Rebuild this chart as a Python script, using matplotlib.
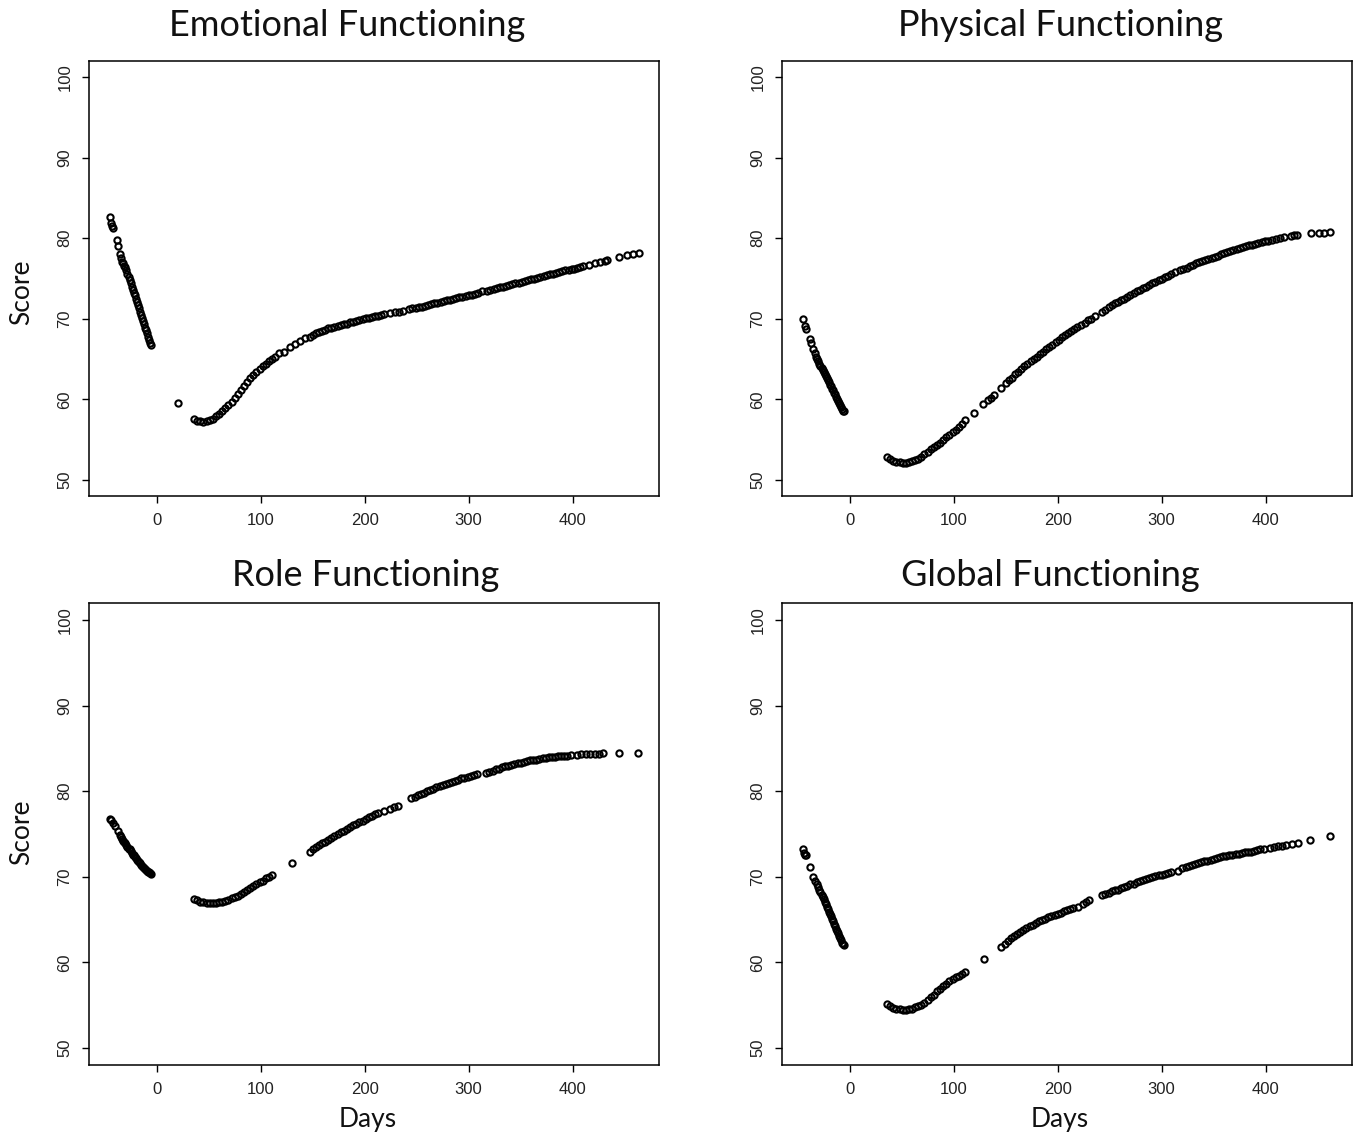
import matplotlib
matplotlib.use("Agg")
import matplotlib.pyplot as plt

# ── Data (days relative to surgery, mean score) ──────────────────────────────

EF_DAYS = [-45, -44, -43, -42, -38, -37, -35, -34, -33, -32, -31,
           -30, -29, -28, -27, -26, -25, -24, -23, -22, -21, -20, -19, -18, -17,
           -16, -15, -14, -13, -12, -11, -10, -9, -8, -7, -6, -5,
           21,
           36, 39, 42, 45, 48, 51, 54, 57, 60, 63, 66, 69, 72, 75, 78, 81, 84,
           87, 90, 93, 96, 99, 102, 105, 108, 111, 114,
           118, 122, 128, 133, 138, 143,
           147, 150, 153, 156, 159, 162, 165, 168, 171, 174, 177, 180, 183, 186,
           189, 192, 195, 198, 201, 204, 207, 210, 213, 216, 219,
           224, 229, 233, 237,
           243, 246, 249, 252, 255, 258, 261, 264, 267, 270, 273, 276, 279, 282,
           285, 288, 291, 294, 297, 300, 303, 306, 309,
           313,
           318, 321, 324, 327, 330, 333, 336, 339, 342, 345, 348, 351, 354, 357,
           360, 363, 366, 369, 372, 375, 378, 381, 384, 387, 390, 393, 396, 399,
           401, 404, 407, 410, 416, 421, 426, 431, 433, 445, 452, 458, 464]
EF_SCORE = [82.6, 81.9, 81.5, 81.3, 79.8, 79.0, 78.1, 77.6, 77.1, 76.9, 76.6,
            76.4, 76.0, 75.6, 75.2, 74.8, 74.4, 74.0, 73.6, 73.2, 72.9, 72.5, 72.1, 71.7, 71.3,
            70.9, 70.5, 70.1, 69.7, 69.3, 68.9, 68.6, 68.2, 67.8, 67.4, 67.0, 66.7,
            59.6,
            57.5, 57.35, 57.25, 57.2, 57.3, 57.45, 57.6, 57.9, 58.2, 58.6, 58.9, 59.3, 59.7, 60.2, 60.6, 61.1, 61.7,
            62.15, 62.6, 63.0, 63.4, 63.8, 64.1, 64.4, 64.7, 64.95, 65.2,
            65.7, 65.9, 66.5, 66.9, 67.2, 67.6,
            67.8, 68.0, 68.2, 68.35, 68.5, 68.65, 68.8, 68.9, 69.0, 69.15, 69.25, 69.3, 69.4, 69.55,
            69.65, 69.75, 69.9, 69.95, 70.05, 70.1, 70.2, 70.3, 70.4, 70.5, 70.6,
            70.7, 70.8, 70.9, 71.0,
            71.2, 71.3, 71.35, 71.4, 71.5, 71.6, 71.7, 71.8, 71.9, 72.0, 72.1, 72.2, 72.3, 72.35,
            72.45, 72.55, 72.7, 72.75, 72.85, 72.9, 73.0, 73.1, 73.2,
            73.4,
            73.5, 73.6, 73.7, 73.8, 73.9, 74.0, 74.1, 74.2, 74.3, 74.4, 74.5, 74.6, 74.7, 74.8,
            74.9, 75.0, 75.1, 75.2, 75.3, 75.4, 75.5, 75.6, 75.7, 75.8, 75.9, 76.0, 76.05, 76.15,
            76.2, 76.3, 76.4, 76.5, 76.7, 76.9, 77.1, 77.2, 77.3, 77.7, 77.9, 78.1, 78.2]

PF_DAYS = [-45, -43, -42, -38, -37, -35, -33, -32, -31,
           -30, -29, -28, -27, -26, -25, -24, -23, -22, -21, -20, -19, -18, -17,
           -16, -15, -14, -13, -12, -11, -10, -9, -8, -7, -6, -5,
           36, 39, 42, 45, 48, 51, 54, 57, 60, 63, 66, 69, 72, 75, 78, 81, 84,
           87, 90, 93, 96, 99, 102, 105, 108, 111,
           120, 128, 133, 136, 139, 146,
           150, 153, 156, 159, 162, 165, 168, 171, 174, 177, 180, 183, 186, 189,
           192, 195, 198, 201, 204, 207, 210, 213, 216, 219, 222,
           226, 229, 232, 236,
           243, 246, 249, 252, 255, 258, 261, 264, 267, 270, 273, 276, 279, 282,
           285, 288, 291, 294, 297, 300, 303, 306, 309,
           313,
           318, 321, 324, 327, 330, 333, 336, 339, 342, 345, 348, 351, 354, 357,
           360, 363, 366, 369, 372, 375, 378, 381, 384, 387, 390, 393, 396, 399,
           402, 406, 410, 414, 418, 424, 427, 430, 444, 451, 456, 462]
PF_SCORE = [70.0, 69.1, 68.7, 67.5, 67.0, 66.3, 65.7, 65.3, 65.0,
            64.7, 64.4, 64.1, 63.9, 63.6, 63.4, 63.1, 62.9, 62.6, 62.4, 62.1, 61.8, 61.6, 61.3,
            61.1, 60.8, 60.6, 60.3, 60.0, 59.8, 59.6, 59.3, 59.1, 58.8, 58.6, 58.5,
            52.8, 52.55, 52.4, 52.25, 52.2, 52.1, 52.15, 52.2, 52.3, 52.45, 52.65, 52.9, 53.2, 53.5, 53.8, 54.1, 54.3,
            54.6, 55.0, 55.3, 55.6, 55.9, 56.2, 56.6, 57.0, 57.4,
            58.3, 59.4, 59.9, 60.2, 60.5, 61.4,
            62.0, 62.4, 62.7, 63.1, 63.4, 63.8, 64.1, 64.4, 64.7, 65.0, 65.3, 65.6, 65.9, 66.2,
            66.5, 66.8, 67.1, 67.4, 67.7, 67.95, 68.2, 68.45, 68.7, 68.95, 69.2,
            69.5, 69.8, 70.0, 70.3,
            70.9, 71.15, 71.4, 71.65, 71.9, 72.1, 72.3, 72.5, 72.7, 72.95, 73.2, 73.4, 73.6, 73.8,
            74.0, 74.2, 74.4, 74.6, 74.8, 75.0, 75.2, 75.35, 75.5,
            75.8,
            76.0, 76.2, 76.35, 76.55, 76.7, 76.9, 77.0, 77.15, 77.3, 77.45, 77.6, 77.7, 77.85, 78.0,
            78.15, 78.3, 78.4, 78.55, 78.65, 78.8, 78.9, 79.0, 79.1, 79.2, 79.3, 79.4, 79.5, 79.6,
            79.7, 79.8, 79.9, 80.0, 80.1, 80.3, 80.4, 80.4, 80.6, 80.7, 80.7, 80.8]

RF_DAYS = [-45, -44, -42, -40, -37, -35, -34, -33, -32,
           -31, -30, -29, -28, -27, -26, -25, -24, -23, -22, -21, -20, -19, -18,
           -17, -16, -15, -14, -13, -12, -11, -10, -9, -8, -7, -6, -5,
           36, 39, 42, 45, 48, 51, 54, 57, 60, 63, 66, 69, 72, 75, 78, 81, 84,
           87, 90, 93, 96, 99, 102, 105, 108, 111,
           130,
           147, 150, 153, 156, 159, 162, 165, 168, 171, 174, 177, 180, 183, 186,
           189, 192, 195, 198, 201, 204, 207, 210, 213,
           219, 224, 228, 232,
           245, 248, 251, 254, 257, 260, 263, 266, 269, 272, 275, 278, 281, 284,
           287, 290, 293, 296, 299, 302, 305, 308,
           317,
           320, 323, 326, 329, 332, 335, 338, 341, 344, 347, 350, 353, 356, 359,
           362, 365, 368, 371, 374, 377, 380, 383, 386, 389, 392, 395, 398,
           404, 408, 413, 417, 421, 425, 429, 445, 463]
RF_SCORE = [76.8, 76.6, 76.3, 75.9, 75.4, 74.9, 74.6, 74.4, 74.2,
            74.1, 73.9, 73.7, 73.5, 73.3, 73.2, 73.0, 72.8, 72.6, 72.5, 72.3, 72.2, 72.0, 71.9,
            71.7, 71.6, 71.4, 71.3, 71.2, 71.0, 70.9, 70.8, 70.7, 70.6, 70.5, 70.4, 70.3,
            67.4, 67.25, 67.1, 67.0, 66.9, 66.9, 66.9, 66.9, 67.0, 67.05, 67.2, 67.3, 67.5, 67.65, 67.8, 68.0, 68.2,
            68.4, 68.65, 68.9, 69.1, 69.35, 69.55, 69.8, 70.0, 70.15,
            71.6,
            72.9, 73.2, 73.45, 73.7, 73.9, 74.1, 74.3, 74.55, 74.8, 75.0, 75.2, 75.4, 75.6, 75.8,
            76.0, 76.15, 76.35, 76.55, 76.75, 76.95, 77.15, 77.3, 77.5,
            77.7, 77.9, 78.1, 78.3,
            79.2, 79.35, 79.5, 79.7, 79.85, 80.0, 80.15, 80.3, 80.45, 80.6, 80.7, 80.85, 81.0, 81.1,
            81.25, 81.35, 81.5, 81.6, 81.7, 81.8, 81.9, 82.0,
            82.1,
            82.3, 82.4, 82.55, 82.65, 82.8, 82.9, 83.0, 83.1, 83.2, 83.25, 83.35, 83.45, 83.5, 83.6,
            83.65, 83.7, 83.8, 83.85, 83.9, 83.95, 84.0, 84.03, 84.06, 84.1, 84.12, 84.15, 84.2,
            84.2, 84.3, 84.3, 84.35, 84.4, 84.4, 84.45, 84.5, 84.5]

GF_DAYS = [-45, -44, -43, -42, -38, -35, -33,
           -31, -30, -29, -28, -27, -26, -25, -24, -23, -22, -21, -20, -19, -18,
           -17, -16, -15, -14, -13, -12, -11, -10, -9, -8, -7, -6, -5,
           36, 39, 42, 45, 48, 51, 54, 57, 60, 63, 66, 69, 72, 75, 78, 81, 84,
           87, 90, 93, 96, 99, 102, 105, 108, 111,
           129,
           146, 149, 152, 155, 158, 161, 164, 167, 170, 173, 176, 179, 182, 185,
           188, 191, 194, 197, 200, 203, 206, 209, 212, 215,
           220, 224, 227, 230,
           243, 246, 249, 252, 255, 258, 261, 264, 267, 270, 273, 276, 279, 282,
           285, 288, 291, 294, 297, 300, 303, 306, 309,
           316,
           320, 323, 326, 329, 332, 335, 338, 341, 344, 347, 350, 353, 356, 359,
           362, 365, 368, 371, 374, 377, 380, 383, 386, 389, 392, 395, 398,
           404, 408, 412, 416, 420, 425, 431, 443, 462]
GF_SCORE = [73.3, 72.8, 72.6, 72.5, 71.1, 70.0, 69.5,
            69.1, 68.8, 68.5, 68.2, 67.9, 67.6, 67.4, 67.1, 66.8, 66.5, 66.2, 65.9, 65.7, 65.4,
            65.1, 64.8, 64.5, 64.2, 63.9, 63.7, 63.4, 63.1, 62.8, 62.6, 62.3, 62.1, 62.0,
            55.1, 54.85, 54.7, 54.55, 54.5, 54.4, 54.45, 54.5, 54.6, 54.75, 54.9, 55.05, 55.3, 55.6, 55.9, 56.2, 56.6,
            56.9, 57.2, 57.5, 57.8, 58.05, 58.25, 58.45, 58.65, 58.85,
            60.4,
            61.8, 62.2, 62.5, 62.8, 63.05, 63.3, 63.55, 63.8, 64.0, 64.2, 64.4, 64.6, 64.8, 64.95,
            65.1, 65.3, 65.4, 65.55, 65.7, 65.8, 65.95, 66.1, 66.2, 66.3,
            66.5, 66.8, 67.0, 67.3,
            67.9, 68.0, 68.15, 68.3, 68.4, 68.5, 68.65, 68.8, 68.95, 69.1, 69.2, 69.35, 69.45, 69.6,
            69.7, 69.8, 69.95, 70.05, 70.15, 70.25, 70.35, 70.45, 70.55,
            70.7,
            71.0, 71.1, 71.25, 71.35, 71.5, 71.6, 71.7, 71.8, 71.9, 72.0, 72.1, 72.2, 72.3, 72.4,
            72.45, 72.5, 72.6, 72.65, 72.7, 72.8, 72.85, 72.9, 72.95, 73.0, 73.1, 73.2, 73.25,
            73.4, 73.5, 73.55, 73.65, 73.7, 73.8, 74.0, 74.3, 74.8]

TITLES = ["Emotional Functioning", "Physical Functioning",
          "Role Functioning", "Global Functioning"]
X_TICKS = [0, 100, 200, 300, 400]
Y_TICKS = [50, 60, 70, 80, 90, 100]

for d, s in [(EF_DAYS, EF_SCORE), (PF_DAYS, PF_SCORE),
             (RF_DAYS, RF_SCORE), (GF_DAYS, GF_SCORE)]:
    assert len(d) == len(s), (len(d), len(s))

# ── Style ─────────────────────────────────────────────────────────────────────

TITLE_FONT = ["Lato", "DejaVu Sans"]
TICK_FONT = ["Liberation Sans Narrow", "Liberation Sans", "DejaVu Sans"]

W, H = 1360, 1140
fig = plt.figure(figsize=(W / 100, H / 100), dpi=100)


def px_rect(left, top, right, bottom):
    return [left / W, 1 - bottom / H, (right - left) / W, (bottom - top) / H]


panels = [
    (EF_DAYS, EF_SCORE, px_rect(89, 61, 659, 496), (347, 26)),
    (PF_DAYS, PF_SCORE, px_rect(782, 61, 1352, 496), (1061, 26)),
    (RF_DAYS, RF_SCORE, px_rect(89, 603, 659, 1065), (366, 576)),
    (GF_DAYS, GF_SCORE, px_rect(782, 603, 1352, 1065), (1050, 576)),
]

for i, (days, score, rect, title_xy) in enumerate(panels):
    ax = fig.add_axes(rect)
    # open circles, heavy enough that the dense stretches merge into a band
    ax.plot(days, score, linestyle="none", marker="o", markersize=4.5,
            markerfacecolor="none", markeredgecolor="black",
            markeredgewidth=1.5)
    ax.set_xlim(-65, 483)
    ax.set_ylim(48, 102)
    ax.set_xticks(X_TICKS)
    ax.set_yticks(Y_TICKS)
    for sp in ax.spines.values():
        sp.set_linewidth(1.1)
    ax.tick_params(direction="out", length=5, width=1.0, pad=7,
                   labelsize=12, labelcolor="#222222")
    ax.tick_params(axis="y", labelrotation=90)
    for lab in ax.get_xticklabels() + ax.get_yticklabels():
        lab.set_family(TICK_FONT)
    for lab in ax.get_yticklabels():
        lab.set_va("center")

    fig.text(title_xy[0] / W, 1 - title_xy[1] / H, TITLES[i],
             ha="center", va="center", fontsize=26, family=TITLE_FONT,
             color="#111111")

# axis labels only on outer panels, like the original
fig.text(22 / W, 1 - 292 / H, "Score", rotation=90, ha="center", va="center",
         fontsize=19, family=TITLE_FONT, color="#111111")
fig.text(22 / W, 1 - 832 / H, "Score", rotation=90, ha="center", va="center",
         fontsize=19, family=TITLE_FONT, color="#111111")
fig.text(368 / W, 1 - 1120 / H, "Days", ha="center", va="center",
         fontsize=19, family=TITLE_FONT, color="#111111")
fig.text(1060 / W, 1 - 1120 / H, "Days", ha="center", va="center",
         fontsize=19, family=TITLE_FONT, color="#111111")

fig.savefig("out.png", dpi=100, facecolor="white")
